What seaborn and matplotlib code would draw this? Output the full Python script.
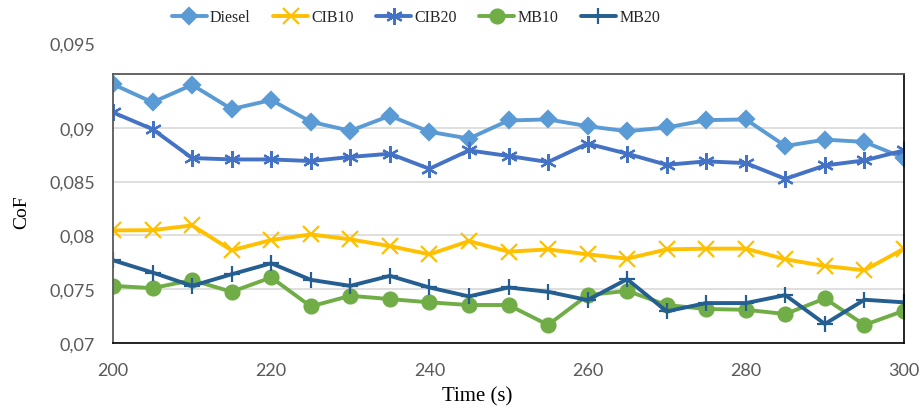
import numpy as np
import pandas as pd
import seaborn as sns
import matplotlib.pyplot as plt
import matplotlib.transforms as mtransforms

sns.set_theme(style="white")
plt.rcParams['font.family'] = ['Liberation Serif', 'DejaVu Serif']

# Data
time_s = [200, 205, 210, 215, 220, 225, 230, 235, 240, 245, 250,
          255, 260, 265, 270, 275, 280, 285, 290, 295, 300]

diesel = [0.09405, 0.09237, 0.09399, 0.09174, 0.09258, 0.09056, 0.08972,
          0.09112, 0.08963, 0.08900, 0.09068, 0.09078, 0.09015, 0.08968,
          0.09003, 0.09071, 0.09078, 0.08831, 0.08890, 0.08869, 0.08719]
cib10 = [0.08046, 0.08049, 0.08093, 0.07861, 0.07957, 0.08009, 0.07963,
         0.07901, 0.07824, 0.07947, 0.07849, 0.07870, 0.07824, 0.07784,
         0.07870, 0.07877, 0.07877, 0.07778, 0.07716, 0.07676, 0.07877]
cib20 = [0.09143, 0.08987, 0.08719, 0.08706, 0.08706, 0.08691, 0.08729,
         0.08759, 0.08619, 0.08790, 0.08738, 0.08682, 0.08853, 0.08759,
         0.08656, 0.08688, 0.08672, 0.08525, 0.08650, 0.08697, 0.08790]
mb10 = [0.07531, 0.07510, 0.07584, 0.07476, 0.07609, 0.07340, 0.07439,
        0.07408, 0.07378, 0.07353, 0.07353, 0.07168, 0.07445, 0.07485,
        0.07353, 0.07316, 0.07309, 0.07269, 0.07414, 0.07168, 0.07300]
mb20 = [0.07769, 0.07655, 0.07531, 0.07639, 0.07741, 0.07587, 0.07531,
        0.07624, 0.07516, 0.07433, 0.07516, 0.07476, 0.07399, 0.07593,
        0.07294, 0.07371, 0.07371, 0.07445, 0.07177, 0.07402, 0.07378]

series_names = ['Diesel', 'CIB10', 'CIB20', 'MB10', 'MB20']
series_values = [diesel, cib10, cib20, mb10, mb20]
colors = ['#5B9BD5', '#FFC000', '#4472C4', '#70AD47', '#255E91']
markers = ['D', 'x', (6, 2, 0), 'o', '+']
marker_sizes = [8, 11, 12, 10, 11]

y_ticks = [0.07, 0.075, 0.08, 0.085, 0.09, 0.095]
y_tick_labels = ['0,07', '0,075', '0,08', '0,085', '0,09', '0,095']
x_ticks = [200, 220, 240, 260, 280, 300]

fig = plt.figure(figsize=(9.22, 4.10), dpi=100)
ax = fig.add_axes([113 / 922, 1 - 344 / 410, (904 - 113) / 922, (344 - 75) / 410])

for name, vals, col, mk, ms in zip(series_names, series_values, colors, markers, marker_sizes):
    df = pd.DataFrame({'Time': time_s, 'CoF': vals})
    sns.lineplot(data=df, x='Time', y='CoF', ax=ax, color=col, label=name,
                 linewidth=2.8, marker=mk, markersize=ms,
                 markeredgecolor=col, markerfacecolor=col, markeredgewidth=1.6)

ax.set_xlim(200, 300)
ax.set_ylim(0.07, 0.095)
ax.set_xticks(x_ticks)
ax.set_yticks(y_ticks)
ax.set_yticklabels(y_tick_labels)

ax.grid(axis='y', color='#d9d9d9', linewidth=1.2)
ax.set_axisbelow(True)

for side in ['top', 'left']:
    ax.spines[side].set_color('#595959')
    ax.spines[side].set_linewidth(1.3)
for side in ['bottom', 'right']:
    ax.spines[side].set_color('black')
    ax.spines[side].set_linewidth(1.2)

ax.tick_params(axis='both', which='major', direction='out', length=5,
               width=1.1, color='#404040', labelcolor='#595959', labelsize=13)
ax.tick_params(axis='y', pad=8)
ax.tick_params(axis='x', pad=9)
for lbl in ax.get_xticklabels() + ax.get_yticklabels():
    lbl.set_family(['Lato', 'DejaVu Sans'])

# the 0,095 label sits detached above the plot area in the original
top_lbl = ax.get_yticklabels()[-1]
top_lbl.set_transform(top_lbl.get_transform() +
                      mtransforms.ScaledTranslation(0, 0.31, fig.dpi_scale_trans))

ax.set_xlabel('Time (s)', fontsize=15, color='black')
ax.xaxis.set_label_coords(0.46, -0.16)
ax.set_ylabel('CoF', fontsize=14, color='black')
ax.yaxis.set_label_coords(-0.105, 0.49)

ax.legend(loc='center', bbox_to_anchor=(0.451, 0.955), bbox_transform=fig.transFigure,
          ncol=5, frameon=False, fontsize=11.5, handlelength=2.2,
          handletextpad=0.2, columnspacing=1.4)

fig.savefig('out.png', dpi=100)
